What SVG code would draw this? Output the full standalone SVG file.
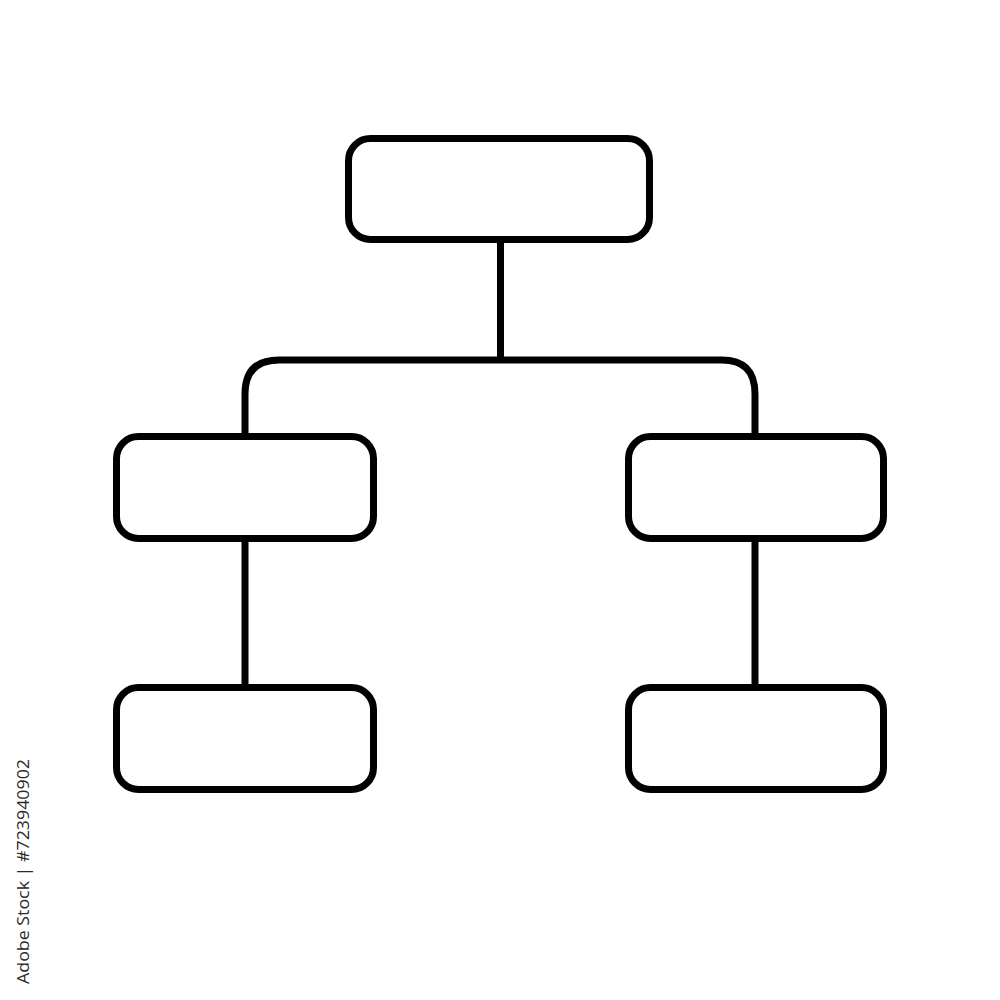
<svg xmlns="http://www.w3.org/2000/svg" width="1000" height="1000" viewBox="0 0 1000 1000">
<style>
.box{fill:#fff;stroke:#000;stroke-width:7}
.conn{fill:none;stroke:#000;stroke-width:7}
.credit{font-family:"Open Sans","DejaVu Sans",sans-serif;font-size:16px;fill:#2a2a2a}
</style>
<rect width="1000" height="1000" fill="#fff"/>
<g id="connectors">
<path class="conn" d="M500.5 239.5 V359"/>
<path class="conn" d="M245 436.5 V394 Q245 360 279 360 H500.5 H720 Q755 359 755 394 V436.5"/>
<path class="conn" d="M245 538.5 V687.5"/>
<path class="conn" d="M755 538.5 V687.5"/>
</g>
<g id="node-top"><rect class="box" x="348.5" y="138.5" width="301" height="101" rx="22"/></g>
<g id="node-mid-left"><rect class="box" x="116.5" y="436.5" width="257" height="102" rx="22"/></g>
<g id="node-mid-right"><rect class="box" x="628.5" y="436.5" width="255" height="102" rx="22"/></g>
<g id="node-bottom-left"><rect class="box" x="116.5" y="687.5" width="257" height="102" rx="22"/></g>
<g id="node-bottom-right"><rect class="box" x="628.5" y="687.5" width="255" height="102" rx="22"/></g>
<text class="credit" transform="translate(29 984) rotate(-90)" textLength="225" lengthAdjust="spacingAndGlyphs">Adobe Stock | #723940902</text>
</svg>
